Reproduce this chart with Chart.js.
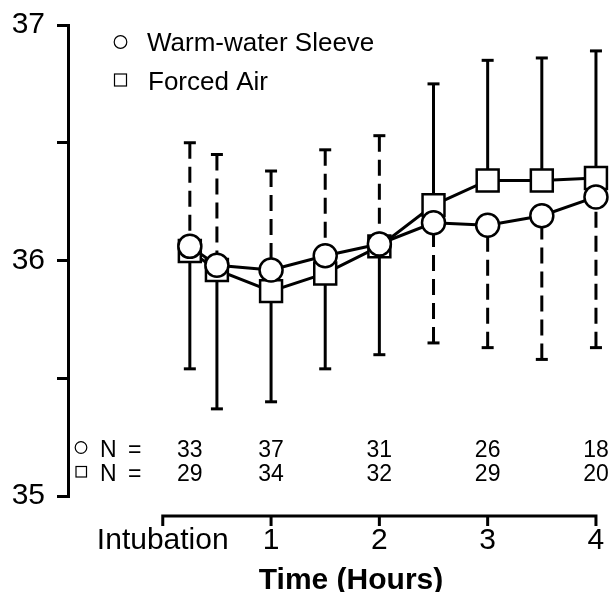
<!DOCTYPE html>
<html>
<head>
<meta charset="utf-8">
<script src="https://cdn.jsdelivr.net/npm/chart.js@4.4.0/dist/chart.umd.min.js"></script>
<style>
  body { margin: 0; background: #fff; }
  #wrap { width: 611px; height: 592px; }
</style>
</head>
<body>
<div id="wrap"><canvas id="Tempchart" width="611" height="592"></canvas></div>
<script>
// time points (hours)
var times = [0.25, 0.5, 1, 1.5, 2, 2.5, 3, 3.5, 4]
var sleeveMean = [36.06, 35.98, 35.96, 36.02, 36.07, 36.16, 36.15, 36.19, 36.27]
var airMean = [36.04, 35.96, 35.87, 35.945, 36.06, 36.235, 36.34, 36.34, 36.35]
// one-sided SD bar ends
var sleeveBar = [36.50, 36.45, 36.38, 36.47, 36.53, 35.65, 35.63, 35.58, 35.63]
var airBar = [35.54, 35.37, 35.40, 35.54, 35.60, 36.75, 36.85, 36.86, 36.89]

var xTicks = [0, 1, 2, 3, 4]
var xTickLabels = ['Intubation', '1', '2', '3', '4']

var nTimes = [0.25, 1, 2, 3, 4]
var nSleeve = [33, 37, 31, 26, 18]
var nAir = [29, 34, 32, 29, 20]

var FONT = "'Liberation Sans', Arial, Helvetica, sans-serif"

function pts(ys) {
    return times.map((t, i) => ({ x: t, y: ys[i] }))
}

let annot = {
    id: 'annot',
    beforeDatasetsDraw: (chart) => {
        let ctx = chart.ctx
        let xs = chart.scales.x, ys = chart.scales.y
        ctx.save()
        ctx.strokeStyle = 'black'
        ctx.lineWidth = 3
        let bars = [[sleeveMean, sleeveBar, [16, 8]], [airMean, airBar, []]]
        bars.forEach(b => {
            times.forEach((t, i) => {
                let px = xs.getPixelForValue(t)
                let p0 = ys.getPixelForValue(b[0][i])
                let p1 = ys.getPixelForValue(b[1][i])
                ctx.setLineDash(b[2])
                ctx.beginPath()
                ctx.moveTo(px, p1)
                ctx.lineTo(px, p0)
                ctx.stroke()
                ctx.setLineDash([])
                ctx.beginPath()
                ctx.moveTo(px - 6, p1)
                ctx.lineTo(px + 6, p1)
                ctx.stroke()
            })
        })
        ctx.restore()
    },
    afterDraw: (chart) => {
        let ctx = chart.ctx
        let xs = chart.scales.x, ys = chart.scales.y
        ctx.save()
        ctx.strokeStyle = 'black'
        ctx.fillStyle = 'black'
        ctx.lineWidth = 3

        // detached x axis
        let axY = 516
        let x0 = xs.getPixelForValue(xTicks[0])
        let x1 = xs.getPixelForValue(xTicks[xTicks.length - 1])
        ctx.beginPath()
        ctx.moveTo(x0, axY)
        ctx.lineTo(x1, axY)
        xTicks.forEach(v => {
            let px = xs.getPixelForValue(v)
            ctx.moveTo(px, axY - 1.5)
            ctx.lineTo(px, axY + 10)
        })
        ctx.stroke()

        ctx.font = '30px ' + FONT
        ctx.textAlign = 'center'
        ctx.textBaseline = 'alphabetic'
        xTicks.forEach((v, i) => {
            ctx.fillText(xTickLabels[i], xs.getPixelForValue(v), 549)
        })
        ctx.font = 'bold 30px ' + FONT
        ctx.fillText('Time (Hours)', 351, 589)

        // N rows
        ctx.font = '23px ' + FONT
        ctx.textAlign = 'left'
        ctx.fillText('N', 100, 457)
        ctx.fillText('=', 128, 457)
        ctx.fillText('N', 100, 481)
        ctx.fillText('=', 128, 481)
        ctx.textAlign = 'center'
        nTimes.forEach((t, i) => {
            let px = xs.getPixelForValue(t)
            ctx.fillText(String(nSleeve[i]), px, 457)
            ctx.fillText(String(nAir[i]), px, 481)
        })
        ctx.lineWidth = 1.2
        ctx.beginPath()
        ctx.arc(81, 447.5, 5.8, 0, Math.PI * 2)
        ctx.stroke()
        ctx.strokeRect(76, 466.5, 10.5, 10.5)

        // legend
        ctx.beginPath()
        ctx.arc(120.5, 42, 6.3, 0, Math.PI * 2)
        ctx.stroke()
        ctx.strokeRect(114.5, 74, 12, 12)
        ctx.font = '26px ' + FONT
        ctx.textAlign = 'left'
        ctx.fillText('Warm-water Sleeve', 147, 51)
        ctx.fillText('Forced Air', 148, 90)
        ctx.restore()
    }
}

let data = {
    datasets: [{
            label: 'Warm-water Sleeve',
            data: pts(sleeveMean),
            borderColor: 'black',
            borderWidth: 3,
            backgroundColor: 'white',
            pointStyle: 'circle',
            pointRadius: 11.5,
            pointBorderWidth: 2.5,
            pointBackgroundColor: 'white',
            pointBorderColor: 'black',
            tension: 0
        },
        {
            label: 'Forced Air',
            data: pts(airMean),
            borderColor: 'black',
            borderWidth: 3,
            backgroundColor: 'white',
            pointStyle: 'rect',
            pointRadius: 15.5,
            pointBorderWidth: 2.5,
            pointBackgroundColor: 'white',
            pointBorderColor: 'black',
            tension: 0
        }
    ]
}

let config = {
    type: 'line',
    data: data,
    plugins: [annot],
    options: {
        responsive: false,
        animation: false,
        clip: false,
        layout: {
            autoPadding: false,
            padding: { left: 0, right: 1.5, top: 25, bottom: 96 }
        },
        plugins: {
            legend: { display: false },
            tooltip: { enabled: false }
        },
        scales: {
            x: {
                type: 'linear',
                min: -0.875,
                max: 4.125,
                display: false
            },
            y: {
                min: 35,
                max: 37,
                position: 'left',
                afterFit: (s) => {
                    s.width = 68
                    s.paddingTop = 0
                    s.paddingBottom = 0
                    s.paddingLeft = 0
                    s.paddingRight = 0
                },
                ticks: {
                    stepSize: 0.5,
                    autoSkip: false,
                    color: 'black',
                    padding: 12,
                    font: { family: FONT, size: 30 },
                    callback: (v) => Number.isInteger(v) ? String(v) : ''
                },
                grid: {
                    drawOnChartArea: false,
                    drawTicks: true,
                    tickLength: 11,
                    color: 'black',
                    lineWidth: 3
                },
                border: {
                    display: true,
                    color: 'black',
                    width: 3
                }
            }
        }
    }
}

let TempChart = new Chart(document.getElementById('Tempchart'), config)
</script>
</body>
</html>
